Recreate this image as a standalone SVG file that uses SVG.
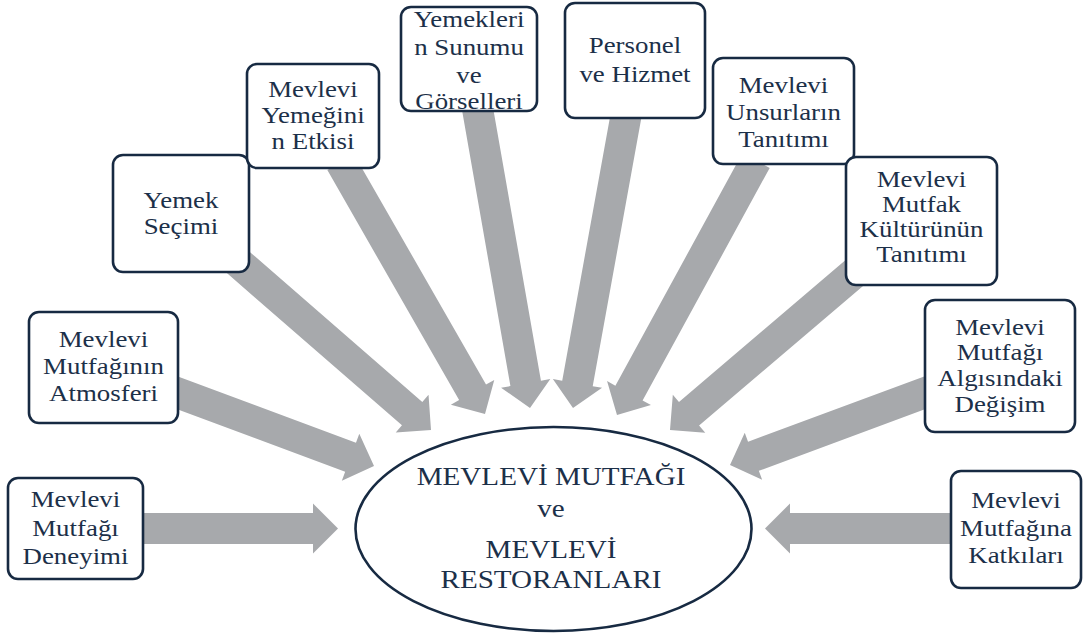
<svg xmlns="http://www.w3.org/2000/svg" width="1083" height="634" viewBox="0 0 1083 634">
<style>
.arr{fill:#a7a9ac}
.box{fill:#ffffff;stroke:#172a42;stroke-width:2.6}
.ell{fill:#ffffff;stroke:#172a42;stroke-width:2.6}
.t{font-family:"Liberation Serif","Times New Roman",serif;font-size:24px;fill:#1c3049;text-anchor:middle}
.tc{font-family:"Liberation Serif","Times New Roman",serif;font-size:26px;fill:#1c3049;text-anchor:middle}
</style>
<rect width="1083" height="634" fill="#ffffff"/>
<g id="connectors">
<polygon class="arr" transform="translate(338,528.5) rotate(0)" points="0,0 -25,-25 -25,-15.5 -200,-15.5 -200,15.5 -25,15.5 -25,25"/>
<polygon class="arr" transform="translate(374,466) rotate(20.43)" points="0,0 -25,-25 -25,-15.5 -220,-15.5 -220,15.5 -25,15.5 -25,25"/>
<polygon class="arr" transform="translate(431,430) rotate(41)" points="0,0 -25,-25 -25,-15.5 -265,-15.5 -265,15.5 -25,15.5 -25,25"/>
<polygon class="arr" transform="translate(485,414) rotate(60.18)" points="0,0 -25,-25 -25,-15.5 -290,-15.5 -290,15.5 -25,15.5 -25,25"/>
<polygon class="arr" transform="translate(530,408) rotate(80.05)" points="0,0 -25,-25 -25,-15.5 -307,-15.5 -307,15.5 -25,15.5 -25,25"/>
<polygon class="arr" transform="translate(573,408) rotate(100.28)" points="0,0 -25,-25 -25,-15.5 -300,-15.5 -300,15.5 -25,15.5 -25,25"/>
<polygon class="arr" transform="translate(617,415) rotate(118.66)" points="0,0 -25,-25 -25,-15.5 -290,-15.5 -290,15.5 -25,15.5 -25,25"/>
<polygon class="arr" transform="translate(670,430) rotate(139.58)" points="0,0 -25,-25 -25,-15.5 -250,-15.5 -250,15.5 -25,15.5 -25,25"/>
<polygon class="arr" transform="translate(730,465) rotate(159.65)" points="0,0 -25,-25 -25,-15.5 -220,-15.5 -220,15.5 -25,15.5 -25,25"/>
<polygon class="arr" transform="translate(765,528.5) rotate(180)" points="0,0 -25,-25 -25,-15.5 -191,-15.5 -191,15.5 -25,15.5 -25,25"/>
</g>
<g id="center">
<ellipse class="ell" cx="553.5" cy="529" rx="198" ry="102"/>
<text class="tc" transform="translate(551,0) scale(1.12,1)"><tspan x="0" y="485">MEVLEVİ MUTFAĞI</tspan><tspan x="0" y="517">ve</tspan><tspan x="0" y="558">MEVLEVİ</tspan><tspan x="0" y="588">RESTORANLARI</tspan></text>
</g>
<g id="n1">
<rect class="box" x="8" y="478" width="135" height="101" rx="10"/>
<text class="t" transform="translate(75.5,0) scale(1.12,1)"><tspan x="0" y="507">Mevlevi</tspan><tspan x="0" y="536">Mutfağı</tspan><tspan x="0" y="564">Deneyimi</tspan></text>
</g>
<g id="n2">
<rect class="box" x="29" y="312" width="149" height="111" rx="10"/>
<text class="t" transform="translate(103.5,0) scale(1.12,1)"><tspan x="0" y="347">Mevlevi</tspan><tspan x="0" y="374">Mutfağının</tspan><tspan x="0" y="401">Atmosferi</tspan></text>
</g>
<g id="n3">
<rect class="box" x="113" y="155" width="136" height="117" rx="10"/>
<text class="t" transform="translate(181,0) scale(1.12,1)"><tspan x="0" y="208">Yemek</tspan><tspan x="0" y="234">Seçimi</tspan></text>
</g>
<g id="n4">
<rect class="box" x="247" y="64" width="132" height="104" rx="10"/>
<text class="t" transform="translate(313,0) scale(1.12,1)"><tspan x="0" y="97">Mevlevi</tspan><tspan x="0" y="123">Yemeğini</tspan><tspan x="0" y="149">n Etkisi</tspan></text>
</g>
<g id="n5">
<rect class="box" x="401" y="7" width="136" height="104" rx="10"/>
<text class="t" transform="translate(469,0) scale(1.12,1)"><tspan x="0" y="27">Yemekleri</tspan><tspan x="0" y="55">n Sunumu</tspan><tspan x="0" y="83">ve</tspan><tspan x="0" y="109">Görselleri</tspan></text>
</g>
<g id="n6">
<rect class="box" x="565" y="3" width="140" height="115" rx="10"/>
<text class="t" transform="translate(635,0) scale(1.12,1)"><tspan x="0" y="53">Personel</tspan><tspan x="0" y="82">ve Hizmet</tspan></text>
</g>
<g id="n7">
<rect class="box" x="713" y="58" width="141" height="106" rx="10"/>
<text class="t" transform="translate(783.5,0) scale(1.12,1)"><tspan x="0" y="93">Mevlevi</tspan><tspan x="0" y="120">Unsurların</tspan><tspan x="0" y="147">Tanıtımı</tspan></text>
</g>
<g id="n8">
<rect class="box" x="846" y="157" width="151" height="128" rx="10"/>
<text class="t" transform="translate(921.5,0) scale(1.12,1)"><tspan x="0" y="187">Mevlevi</tspan><tspan x="0" y="212">Mutfak</tspan><tspan x="0" y="237">Kültürünün</tspan><tspan x="0" y="262">Tanıtımı</tspan></text>
</g>
<g id="n9">
<rect class="box" x="925" y="300" width="150" height="132" rx="10"/>
<text class="t" transform="translate(1000,0) scale(1.12,1)"><tspan x="0" y="335">Mevlevi</tspan><tspan x="0" y="360">Mutfağı</tspan><tspan x="0" y="386">Algısındaki</tspan><tspan x="0" y="412">Değişim</tspan></text>
</g>
<g id="n10">
<rect class="box" x="951" y="471" width="130" height="117" rx="10"/>
<text class="t" transform="translate(1016,0) scale(1.12,1)"><tspan x="0" y="508">Mevlevi</tspan><tspan x="0" y="536">Mutfağına</tspan><tspan x="0" y="563">Katkıları</tspan></text>
</g>
</svg>
